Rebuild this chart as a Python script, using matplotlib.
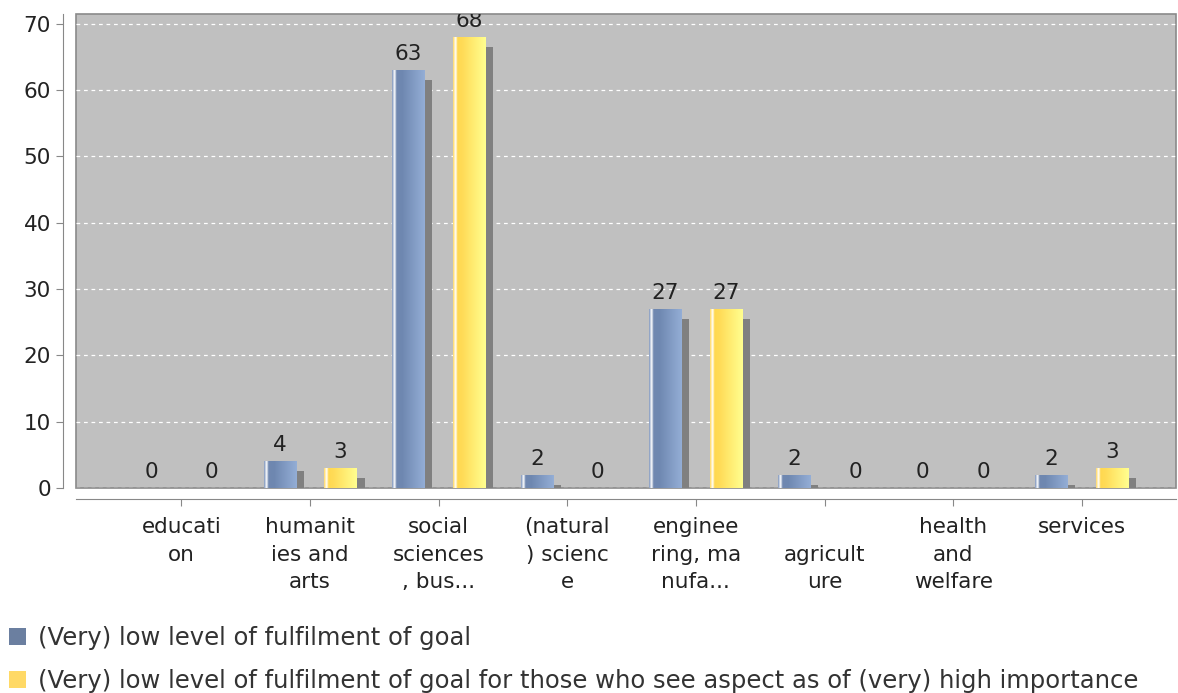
import numpy as np
import matplotlib.pyplot as plt
import matplotlib.transforms as mtransforms
from matplotlib.colors import LinearSegmentedColormap

# data
categories = ["educati\non", "humanit\nies and\narts", "social\nsciences\n, bus...",
              "(natural\n) scienc\ne", "enginee\nring, ma\nnufa...", "\nagricult\nure",
              "health\nand\nwelfare", "services"]
low_fulfilment = [0, 4, 63, 2, 27, 2, 0, 2]
low_fulfilment_high_importance = [0, 3, 68, 0, 27, 0, 0, 3]
series_names = ["(Very) low level of fulfilment of goal",
                "(Very) low level of fulfilment of goal for those who see aspect as of (very) high importance"]

legend_colors = ["#6b7fa0", "#ffd966"]
grad_maps = [
    LinearSegmentedColormap.from_list("b", [(0, "#7c93bb"), (0.08, "#ffffff"), (0.14, "#7088b0"),
                                            (0.3, "#6e87b0"), (1, "#94aed6")]),
    LinearSegmentedColormap.from_list("y", [(0, "#ffd860"), (0.08, "#ffffff"), (0.14, "#ffd850"),
                                            (0.3, "#ffdc58"), (1, "#ffff90")]),
]

FS = 15.5

fig = plt.figure(figsize=(11.78, 6.93), dpi=100)
ax = fig.add_axes([0.0645, 0.296, 0.9335, 0.684])
ax.set_facecolor("#c0c0c0")
ax.patch.set_edgecolor("#8a8a8a")
ax.patch.set_linewidth(1.2)

x = np.arange(len(categories))
offset = 0.237
width = 0.25
ylim_top = 71.5

gradient = np.linspace(0, 1, 256).reshape(1, -1)
for k, (vals, off) in enumerate([(low_fulfilment, -offset), (low_fulfilment_high_importance, offset)]):
    vals = np.array(vals, dtype=float)
    # drop shadow
    ax.bar(x + off + 0.062, np.clip(vals - 1.5, 0, None), width, color="#808080", zorder=2)
    bars = ax.bar(x + off, vals, width, color=legend_colors[k], zorder=3, label=series_names[k])
    for b, v in zip(bars, vals):
        if v > 0:
            x0, y0 = b.get_x(), b.get_y()
            im = ax.imshow(gradient, cmap=grad_maps[k], aspect="auto", zorder=4,
                           extent=(x0, x0 + b.get_width(), y0, y0 + b.get_height()))
            im.set_clip_path(b)
        ax.text(b.get_x() + b.get_width() / 2, v + 0.9, f"{int(v)}", ha="center", va="bottom",
                fontsize=FS, color="#222222", zorder=5, clip_on=True)

ax.set_xlim(-0.82, 7.73)
ax.set_ylim(0, ylim_top)
ax.set_yticks(range(0, 71, 10))
ax.grid(axis="y", color="white", linestyle=(0, (3, 3)), linewidth=0.9, zorder=1)
ax.set_axisbelow(True)

ax.tick_params(axis="y", labelsize=FS, labelcolor="#222222", length=5, color="#888888", pad=4)
ax.tick_params(axis="x", length=5, color="#888888")
ax.set_xticks(x)
ax.set_xticklabels([])

# category labels (multi-line, spaced like the original)
trans = mtransforms.blended_transform_factory(ax.transData, ax.transAxes)
for xi, lab in zip(x, categories):
    ax.text(xi, -0.062, lab, transform=trans, ha="center", va="top", fontsize=FS,
            color="#222222", linespacing=1.46, clip_on=False)

for side in ["top", "right"]:
    ax.spines[side].set_visible(False)
ax.spines["left"].set_position(("outward", 9))
ax.spines["bottom"].set_position(("outward", 8))
ax.spines["left"].set_color("#888888")
ax.spines["bottom"].set_color("#888888")
ax.spines["left"].set_bounds(0, ylim_top)

fig.legend(loc="upper left", bbox_to_anchor=(0.008, 0.097), frameon=False, fontsize=17.5,
           handlelength=0.68, handleheight=0.68, handletextpad=0.5, labelspacing=0.8,
           borderpad=0, borderaxespad=0, labelcolor="#333333")

fig.savefig("out.png", dpi=100)
